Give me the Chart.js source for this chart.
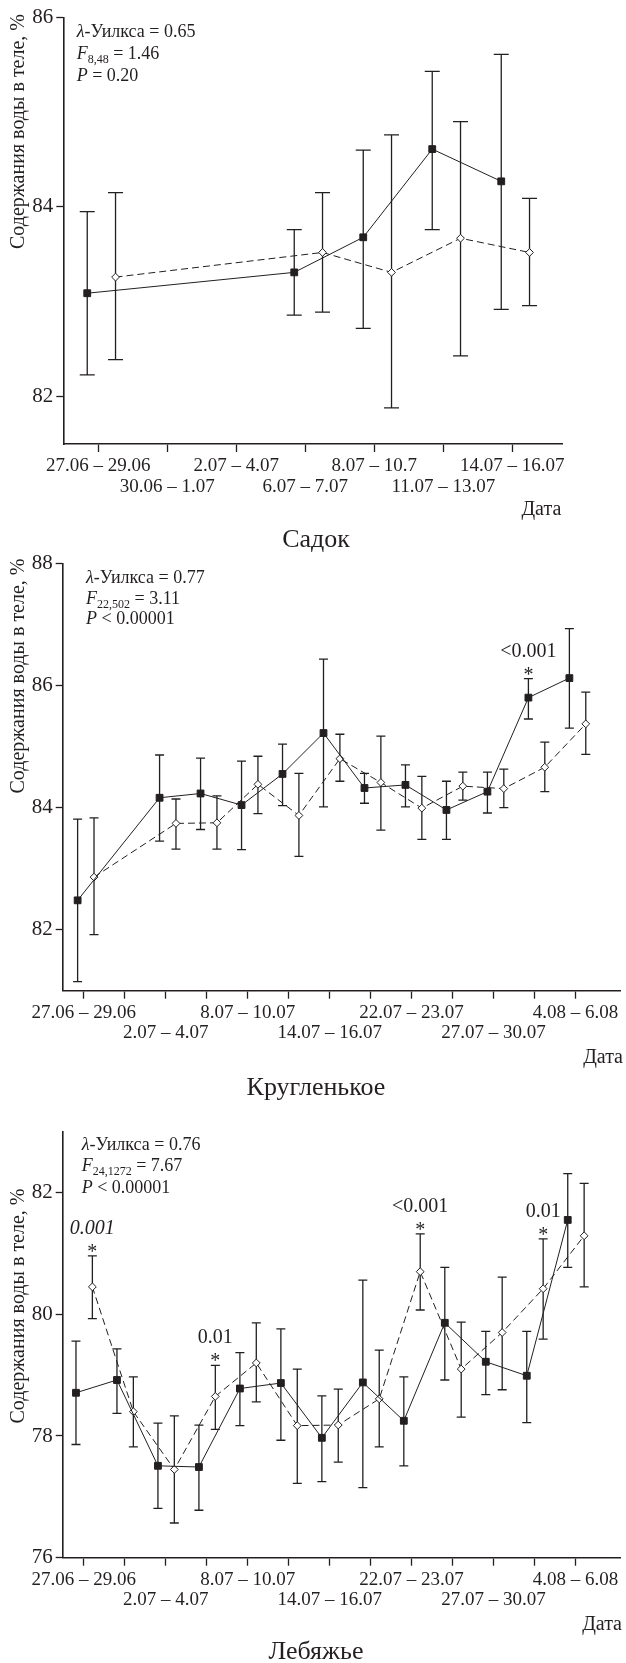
<!DOCTYPE html>
<html lang="ru">
<head>
<meta charset="utf-8">
<title>Содержание воды в теле</title>
<script src="https://cdn.jsdelivr.net/npm/chart.js@4.4.1/dist/chart.umd.min.js"></script>
<style>
  html, body { margin: 0; padding: 0; background: #fff; }
  body { width: 626px; height: 1663px; position: relative; overflow: hidden;
         font-family: 'Liberation Serif', 'Times New Roman', serif; color: #231f20; }
  canvas { position: absolute; left: 0; }
  .caption { position: absolute; left: 6px; width: 620px; text-align: center;
             font-size: 26px; line-height: 30px; }
</style>
</head>
<body>
<canvas id="sadok" width="626" height="525" style="top:0"></canvas>
<div class="caption" style="top:524px">Садок</div>
<canvas id="kruglenkoe" width="626" height="525" style="top:545px"></canvas>
<div class="caption" style="top:1072px">Кругленькое</div>
<canvas id="lebyazhye" width="626" height="530" style="top:1110px"></canvas>
<div class="caption" style="top:1636px">Лебяжье</div>

<script>
// =============================================
// DATA
// =============================================
// Садок
const sadokDates   = ['27.06 – 29.06', '30.06 – 1.07', '2.07 – 4.07', '6.07 – 7.07', '8.07 – 10.7', '11.07 – 13.07', '14.07 – 16.07'];
const sadokPeriods = [0, 3, 4, 5, 6];
const sadokSolid   = [83.09, 83.31, 83.68, 84.61, 84.27];
const sadokSolidLo = [82.23, 82.86, 82.72, 83.76, 82.92];
const sadokSolidHi = [83.95, 83.76, 84.60, 85.43, 85.61];
const sadokOpen    = [83.26, 83.52, 83.31, 83.67, 83.52];
const sadokOpenLo  = [82.39, 82.89, 81.88, 82.43, 82.96];
const sadokOpenHi  = [84.15, 84.15, 84.76, 84.90, 84.09];
const sadokYTicks  = [82, 84, 86];
const sadokStats   = ['0.65', '8,48', '1.46', '= 0.20'];
const sadokNotes   = [];

// Кругленькое и Лебяжье — одна сетка дат
const lakeDates = ['27.06 – 29.06', '', '2.07 – 4.07', '', '8.07 – 10.07', '', '14.07 – 16.07', '',
                   '22.07 – 23.07', '', '27.07 – 30.07', '', '4.08 – 6.08'];

// Кругленькое
const krugPeriods = [0, 2, 3, 4, 5, 6, 7, 8, 9, 10, 11, 12];
const krugSolid   = [82.48, 84.16, 84.23, 84.04, 84.55, 85.22, 84.32, 84.37, 83.96, 84.26, 85.80, 86.12];
const krugSolidLo = [81.15, 83.45, 83.64, 83.31, 84.03, 84.01, 84.07, 84.01, 83.48, 83.91, 85.45, 85.30];
const krugSolidHi = [83.81, 84.86, 84.81, 84.76, 85.04, 86.43, 84.56, 84.70, 84.43, 84.58, 86.11, 86.93];
const krugOpen    = [82.86, 83.74, 83.75, 84.38, 83.87, 84.80, 84.41, 83.99, 84.35, 84.31, 84.66, 85.37];
const krugOpenLo  = [81.92, 83.32, 83.32, 83.90, 83.20, 84.43, 83.63, 83.48, 84.12, 84.00, 84.26, 84.87];
const krugOpenHi  = [83.83, 84.14, 84.19, 84.84, 84.56, 85.20, 85.17, 84.51, 84.58, 84.63, 85.07, 85.89];
const krugYTicks  = [82, 84, 86, 88];
const krugStats   = ['0.77', '22,502', '3.11', '< 0.00001'];
const krugNotes   = [{ series: 0, i: 10, text: '<0.001' }];

// Лебяжье
const lebPeriods = [0, 1, 2, 3, 4, 5, 6, 7, 8, 9, 10, 11, 12];
const lebSolid   = [78.71, 78.92, 77.51, 77.49, 78.78, 78.87, 77.97, 78.88, 78.25, 79.86, 79.22, 78.99, 81.55];
const lebSolidLo = [77.86, 78.37, 76.81, 76.78, 78.17, 77.93, 77.25, 77.15, 77.51, 78.92, 78.68, 78.22, 80.77];
const lebSolidHi = [79.56, 79.43, 78.21, 78.18, 79.37, 79.76, 78.66, 80.56, 78.97, 80.77, 79.72, 79.72, 82.31];
const lebOpen    = [80.45, 78.40, 77.45, 78.65, 79.20, 78.17, 78.18, 78.61, 80.70, 79.10, 79.70, 80.42, 81.29];
const lebOpenLo  = [79.93, 77.82, 76.57, 78.11, 78.56, 77.22, 77.57, 77.82, 80.07, 78.31, 78.76, 79.59, 80.45];
const lebOpenHi  = [80.96, 78.97, 78.33, 79.16, 79.86, 79.10, 78.77, 79.41, 81.32, 79.87, 80.61, 81.24, 82.15];
const lebYTicks  = [76, 78, 80, 82];
const lebStats   = ['0.76', '24,1272', '7.67', '< 0.00001'];
const lebNotes   = [
    { series: 1, i: 0,  text: '0.001', italic: true },
    { series: 1, i: 3,  text: '0.01' },
    { series: 1, i: 8,  text: '<0.001' },
    { series: 1, i: 11, text: '0.01' },
];

// =============================================
// STYLE
// =============================================
const INK = '#231f20';
const SERIF = "'Liberation Serif', 'Times New Roman', serif";
const Y_TITLE = 'Содержания воды в теле, %';
const X_TITLE = 'Дата';

Chart.defaults.font.family = SERIF;
Chart.defaults.color = INK;

// =============================================
// PLUGINS
// =============================================
// vertical whiskers with caps, under the markers
const errorBars = {
    id: 'errorBars',
    beforeDatasetsDraw(chart, args, opts) {
        const { ctx, scales: { x, y } } = chart;
        ctx.save();
        ctx.strokeStyle = INK;
        ctx.lineWidth = 1.3;
        chart.data.datasets.forEach(ds => {
            ds.data.forEach((p, i) => {
                const px = x.getPixelForValue(p.x);
                const yl = y.getPixelForValue(ds.lo[i]);
                const yh = y.getPixelForValue(ds.hi[i]);
                ctx.beginPath();
                ctx.moveTo(px, yl); ctx.lineTo(px, yh);
                ctx.moveTo(px - opts.cap, yl); ctx.lineTo(px + opts.cap, yl);
                ctx.moveTo(px - opts.cap, yh); ctx.lineTo(px + opts.cap, yh);
                ctx.stroke();
            });
        });
        ctx.restore();
    },
};

function drawRuns(ctx, x, y, runs) {
    runs.forEach(r => {
        ctx.font = r.font;
        ctx.fillText(r.t, x, y + (r.dy || 0));
        x += ctx.measureText(r.t).width;
    });
}

// stats block, axis titles, significance marks
const panelText = {
    id: 'panelText',
    afterDatasetsDraw(chart, args, opts) {
        const { ctx, scales: { x, y } } = chart;
        const [lambda, fSub, fVal, pVal] = opts.stats;
        const roman = `18px ${SERIF}`, italic = `italic 18px ${SERIF}`;
        ctx.save();
        ctx.fillStyle = INK;
        ctx.textAlign = 'left';
        ctx.textBaseline = 'alphabetic';
        const [sx, sy] = opts.statsAt;
        drawRuns(ctx, sx, sy, [{ t: 'λ', font: italic }, { t: '-Уилкса = ' + lambda, font: roman }]);
        drawRuns(ctx, sx, sy + opts.lineGap, [
            { t: 'F', font: italic },
            { t: fSub, font: `12px ${SERIF}`, dy: 4 },
            { t: ' = ' + fVal, font: roman },
        ]);
        drawRuns(ctx, sx, sy + 2 * opts.lineGap, [{ t: 'P', font: italic }, { t: ' ' + pVal, font: roman }]);

        // y title
        ctx.save();
        ctx.translate(18.3, opts.titleY);
        ctx.rotate(-Math.PI / 2);
        ctx.textAlign = 'center';
        ctx.textBaseline = 'middle';
        ctx.font = `20px ${SERIF}`;
        ctx.fillText(Y_TITLE, 0, 0);
        ctx.restore();

        // x title
        ctx.textAlign = 'right';
        ctx.font = `20px ${SERIF}`;
        ctx.fillText(X_TITLE, opts.dateAt[0], opts.dateAt[1]);

        // p-values over the differing samples
        ctx.textAlign = 'center';
        opts.notes.forEach(n => {
            const ds = chart.data.datasets[n.series];
            const px = x.getPixelForValue(ds.data[n.i].x);
            const top = y.getPixelForValue(ds.hi[n.i]);
            ctx.font = `20px ${SERIF}`;
            ctx.fillText('*', px, top + 2);
            ctx.font = (n.italic ? 'italic ' : '') + `20px ${SERIF}`;
            ctx.fillText(n.text, px, top - 22);
        });
        ctx.restore();
    },
};

// =============================================
// PANELS
// =============================================
function buildPanel(id, d, f) {
    const canvas = document.getElementById(id);
    const W = canvas.width, H = canvas.height;
    const points = (vals, shift) => vals.map((v, i) => ({ x: d.periods[i] + 1 + shift, y: v }));

    new Chart(canvas, {
        type: 'line',
        data: {
            datasets: [
                {
                    data: points(d.solid, f.shift[0]), lo: d.solidLo, hi: d.solidHi,
                    borderColor: INK, borderWidth: 1, tension: 0,
                    pointStyle: 'rect', pointRadius: 4.8,
                    pointBackgroundColor: INK, pointBorderColor: INK, pointBorderWidth: 1,
                },
                {
                    data: points(d.open, f.shift[1]), lo: d.openLo, hi: d.openHi,
                    borderColor: INK, borderWidth: 1, borderDash: [7, 4], tension: 0,
                    pointStyle: 'rectRot', pointRadius: 3.9,
                    pointBackgroundColor: '#fff', pointBorderColor: INK, pointBorderWidth: 1,
                },
            ],
        },
        options: {
            responsive: false,
            animation: false,
            events: [],
            layout: { padding: { left: 0, top: f.top, right: W - f.right, bottom: 0 } },
            plugins: {
                legend: { display: false },
                tooltip: { enabled: false },
                errorBars: { cap: f.cap },
                panelText: {
                    stats: d.stats, notes: d.notes, statsAt: f.statsAt, lineGap: f.lineGap,
                    titleY: f.titleY, dateAt: f.dateAt,
                },
            },
            scales: {
                x: {
                    type: 'linear', min: f.xMin, max: f.xMax,
                    afterBuildTicks: s => { s.ticks = d.dates.map((_, i) => ({ value: i + 1 })); },
                    afterFit: s => { s.height = H - f.bottom; s.paddingLeft = 0; s.paddingRight = 0; },
                    grid: { drawOnChartArea: false, drawTicks: true, tickLength: 8, tickWidth: 1.3, tickColor: INK },
                    border: { display: true, color: INK, width: 1.6 },
                    ticks: {
                        autoSkip: false, maxRotation: 0, minRotation: 0, padding: 3.5, color: INK,
                        font: { family: SERIF, size: 19, lineHeight: 1.09 },
                        callback: (v, i) => {
                            const label = d.dates[i];
                            if (!label) return '';
                            const row = d.dates.slice(0, i).filter(Boolean).length % 2;
                            return row ? ['', label] : label;
                        },
                    },
                },
                y: {
                    min: f.yMin, max: f.yMax,
                    afterBuildTicks: s => { s.ticks = d.yTicks.map(v => ({ value: v })); },
                    afterFit: s => { s.width = f.left; s.paddingTop = 0; s.paddingBottom = 0; },
                    grid: { drawOnChartArea: false, drawTicks: true, tickLength: 7, tickWidth: 1.3, tickColor: INK },
                    border: { display: true, color: INK, width: 1.6 },
                    ticks: {
                        padding: 3, color: INK,
                        font: { family: SERIF, size: 21 },
                        callback: v => String(v),
                    },
                },
            },
        },
        plugins: [errorBars, panelText],
    });
}

buildPanel('sadok', {
    dates: sadokDates, periods: sadokPeriods, yTicks: sadokYTicks, stats: sadokStats, notes: sadokNotes,
    solid: sadokSolid, solidLo: sadokSolidLo, solidHi: sadokSolidHi,
    open: sadokOpen, openLo: sadokOpenLo, openHi: sadokOpenHi,
}, {
    left: 63.3, top: 17.3, right: 562.3, bottom: 444,
    xMin: 0.493, xMax: 7.725, yMin: 81.5, yMax: 86,
    shift: [-0.16, 0.25], cap: 7.5,
    statsAt: [76.7, 36.7], lineGap: 22.2, titleY: 131.5, dateAt: [561.3, 515],
});

buildPanel('kruglenkoe', {
    dates: lakeDates, periods: krugPeriods, yTicks: krugYTicks, stats: krugStats, notes: krugNotes,
    solid: krugSolid, solidLo: krugSolidLo, solidHi: krugSolidHi,
    open: krugOpen, openLo: krugOpenLo, openHi: krugOpenHi,
}, {
    left: 62.7, top: 18.3, right: 626, bottom: 445.7,
    xMin: 0.486, xMax: 14.09, yMin: 81, yMax: 88,
    shift: [-0.15, 0.25], cap: 4.5,
    statsAt: [86, 37.7], lineGap: 20.8, titleY: 131, dateAt: [623, 518],
});

buildPanel('lebyazhye', {
    dates: lakeDates, periods: lebPeriods, yTicks: lebYTicks, stats: lebStats, notes: lebNotes,
    solid: lebSolid, solidLo: lebSolidLo, solidHi: lebSolidHi,
    open: lebOpen, openLo: lebOpenLo, openHi: lebOpenHi,
}, {
    left: 62.7, top: 21.7, right: 626, bottom: 447.7,
    xMin: 0.486, xMax: 14.09, yMin: 76, yMax: 83,
    shift: [-0.19, 0.21], cap: 4.5,
    statsAt: [81.7, 40], lineGap: 21.3, titleY: 196, dateAt: [622, 520],
});
</script>
</body>
</html>
